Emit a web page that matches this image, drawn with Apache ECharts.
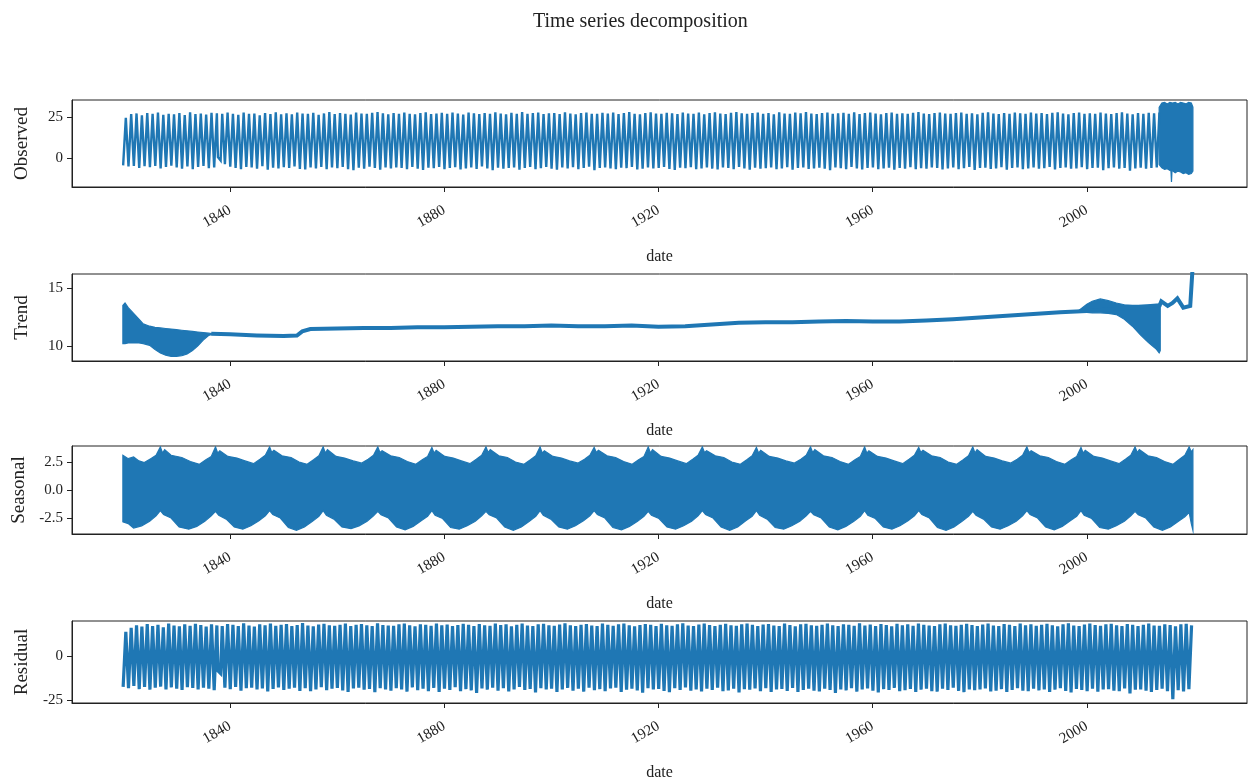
<!DOCTYPE html>
<html><head><meta charset="utf-8">
<script src="https://cdn.jsdelivr.net/npm/echarts@6/dist/echarts.min.js"></script>
<style>html,body{margin:0;padding:0;background:#fff}#c{width:1250px;height:782px}</style>
</head><body><div id="c"></div>
<script>
// ---------------- DATA ----------------
const tickYears = [1840, 1880, 1920, 1960, 2000];
const panelNames = ['Observed', 'Trend', 'Seasonal', 'Residual'];
const obsTicks = [0, 25];
const trendTicks = [10, 15];
const seasTicks = [-2.5, 0, 2.5];
const resTicks = [-25, 0];

const firstYear = 1820;
// Observed: yearly summer highs and winter lows, 1820..2013
const obsPeak = [
 24.5,26.8,27.2,26.1,27.5,26.9,27.8,26.3,27.0,26.6,
 27.4,26.2,27.9,26.8,27.1,26.5,27.6,27.3,27.0,27.8,
 27.0,26.4,27.7,26.9,27.2,26.0,27.5,26.8,27.9,26.7,
 27.3,26.6,27.8,27.1,26.9,27.6,26.4,27.2,28.0,26.8,
 27.4,27.0,26.5,27.8,27.2,26.9,27.6,28.1,27.3,26.7,
 27.5,26.9,27.8,27.0,26.6,27.4,27.9,26.8,27.2,27.6,
 26.9,27.7,27.1,26.5,27.8,27.3,26.8,27.5,27.0,27.9,
 27.2,26.7,27.6,27.0,28.0,26.9,27.4,27.7,26.8,27.3,
 27.5,26.8,27.9,27.1,26.6,27.4,27.8,27.0,26.9,27.6,
 27.2,27.7,26.8,27.4,28.0,27.0,26.7,27.5,27.9,27.1,
 26.9,27.6,27.3,26.8,27.8,27.2,27.0,27.7,26.6,27.4,
 27.9,27.1,26.8,27.6,28.1,27.3,26.9,27.5,27.8,27.0,
 27.4,26.7,27.9,27.2,26.9,27.7,27.3,28.0,27.1,26.8,
 27.5,27.8,26.9,27.3,27.6,27.0,27.9,26.8,27.4,27.7,
 27.1,26.7,27.5,27.8,27.0,27.3,26.9,27.6,28.0,27.2,
 26.8,27.4,27.7,27.1,26.9,27.5,27.8,27.0,27.3,26.7,
 27.6,27.9,27.2,26.8,27.4,27.0,27.7,27.3,26.9,27.8,
 27.1,27.5,26.8,27.6,27.9,27.2,26.7,27.4,27.8,27.0,
 27.3,26.9,27.7,27.1,26.8,27.5,27.9,27.2,26.6,27.4,
 27.0,27.6,27.3,27.8
];
const obsTrough = [
 -4.5,-5.2,-4.8,-6.1,-5.0,-5.6,-4.9,-6.3,-5.4,-4.7,
 -5.8,-6.5,-5.1,-6.8,-5.5,-4.9,-6.2,-5.7,null,-3.8,
 -5.3,-6.0,-6.9,-5.4,-5.8,-6.6,-5.0,-7.2,-5.9,-6.4,
 -5.6,-6.1,-5.2,-6.7,-7.0,-5.8,-6.3,-5.4,-6.9,-5.7,
 -6.2,-5.5,-6.8,-7.4,-5.9,-6.5,-5.3,-6.1,-7.1,-5.8,
 -6.4,-5.7,-6.0,-6.9,-5.4,-6.6,-7.3,-5.9,-6.2,-5.5,
 -6.8,-6.1,-5.6,-7.0,-6.3,-5.8,-6.7,-5.2,-6.4,-7.5,
 -5.9,-6.5,-6.1,-5.7,-7.2,-6.0,-5.5,-6.8,-6.2,-5.4,
 -6.6,-7.1,-5.8,-6.3,-5.6,-6.9,-6.0,-5.3,-7.4,-6.1,
 -5.7,-6.4,-6.8,-5.9,-6.2,-5.5,-7.0,-6.6,-5.8,-6.3,
 -6.0,-5.4,-6.7,-7.3,-5.9,-6.2,-5.6,-6.9,-6.4,-5.8,
 -6.5,-7.0,-5.7,-6.1,-6.8,-5.5,-6.3,-7.2,-5.9,-6.6,
 -6.2,-5.8,-6.9,-6.4,-5.6,-7.1,-6.0,-5.7,-6.7,-6.3,
 -5.9,-6.6,-7.4,-5.8,-6.2,-6.9,-5.5,-6.4,-7.0,-6.1,
 -5.7,-6.8,-6.3,-5.9,-7.2,-6.0,-6.5,-5.6,-6.9,-6.2,
 -6.6,-5.8,-6.1,-7.0,-6.4,-5.7,-6.8,-6.2,-5.5,-7.3,
 -6.0,-5.9,-6.7,-6.3,-5.6,-7.1,-6.1,-5.8,-6.9,-6.4,
 -5.7,-6.5,-6.2,-5.4,-7.0,-6.0,-5.8,-6.6,-6.3,-5.6,
 -6.8,-6.1,-5.9,-7.4,-6.2,-5.7,-6.5,-6.0,-7.8,-6.3,
 -5.9,-6.6,-6.1,-5.8
];
// Observed: stretch of missing values in 1838 (year, value)
const obsGap = [[1837.75, 0.5], [1838.25, -1.5]];
// Observed: dense daily block at the end (envelope, year, value)
const obsBlockUpper = [[2013.5,31.0],[2014.0,33.5],[2014.5,34.0],[2015.0,33.0],[2015.5,34.0],[2016.0,33.5],[2016.5,34.0],[2017.0,33.0],[2017.5,34.0],[2018.0,33.5],[2018.5,33.0],[2019.0,34.0],[2019.5,33.5],[2019.8,31.0]];
const obsBlockLower = [[2013.5,-4.0],[2014.0,-6.0],[2014.5,-7.0],[2015.0,-6.5],[2015.7,-8.0],[2015.8,-14.6],[2015.9,-7.5],[2016.5,-9.0],[2017.0,-8.0],[2017.5,-8.5],[2018.0,-9.5],[2018.5,-9.0],[2019.0,-10.0],[2019.5,-9.5],[2019.8,-8.0]];

// Trend
const trendStartUpper = [[1820.0,13.5],[1820.4,13.7],[1821,13.3],[1822,12.8],[1823,12.3],[1823.8,11.9],[1825,11.7],[1826,11.6],[1827,11.55],[1828,11.5],[1829,11.45],[1830,11.4],[1831,11.35],[1832,11.3],[1833,11.25],[1834,11.2],[1835,11.15],[1836,11.1],[1836.8,11.05]];
const trendStartLower = [[1820.0,10.2],[1820.4,10.2],[1821,10.25],[1822,10.25],[1823,10.25],[1823.8,10.2],[1825,10.05],[1826,9.7],[1827,9.4],[1828,9.2],[1829,9.1],[1830,9.1],[1831,9.15],[1832,9.3],[1833,9.6],[1834,10.0],[1835,10.5],[1836,10.9],[1836.8,11.0]];
const trendEndUpper = [[1998.5,13.05],[2000,13.6],[2001,13.85],[2002.5,14.05],[2004,13.9],[2005.5,13.7],[2007,13.55],[2008.5,13.5],[2010,13.5],[2011.5,13.5],[2013,13.55],[2013.5,13.6],[2013.7,13.6]];
const trendEndLower = [[1998.5,12.95],[2000,12.9],[2001,12.85],[2002.5,12.85],[2004,12.8],[2005.5,12.7],[2007,12.3],[2008.5,11.7],[2010,10.95],[2011.5,10.3],[2013,9.7],[2013.5,9.4],[2013.7,9.6]];
const trendLine = [[1836.5,11.05],[1840,11.0],[1845,10.9],[1850,10.85],[1852.5,10.9],[1853.5,11.25],[1855,11.45],[1860,11.5],[1865,11.55],[1870,11.55],[1875,11.6],[1880,11.6],[1885,11.65],[1890,11.7],[1895,11.7],[1900,11.75],[1905,11.7],[1910,11.7],[1915,11.75],[1920,11.65],[1925,11.7],[1930,11.85],[1935,12.0],[1940,12.05],[1945,12.05],[1950,12.1],[1955,12.15],[1960,12.1],[1965,12.1],[1970,12.2],[1975,12.3],[1980,12.45],[1985,12.6],[1990,12.75],[1995,12.9],[2000,13.0],[2013.6,13.5],[2013.9,13.85],[2015.1,13.45],[2016.0,13.7],[2016.9,14.1],[2018.0,13.3],[2019.3,13.45],[2019.55,13.6],[2019.75,16.8]];

// Seasonal envelope (year, value)
const seasUpper = [[1820.0,3.1],[1821.0,2.8],[1822.0,2.95],[1823.0,2.6],
 [1824.0,2.45],[1825.2,2.8],[1826.2,3.1],[1827.0,3.85],[1827.4,3.3],[1827.8,3.6],[1829.0,3.1],[1831.0,2.9],[1832.6,2.55],
 [1834.3,2.3],[1835.5,2.7],[1836.5,3.0],[1837.3,3.85],[1837.7,3.3],[1838.1,3.5],[1839.6,3.0],[1841.3,2.85],[1842.8,2.6],
 [1844.4,2.35],[1845.6,2.75],[1846.6,3.1],[1847.4,3.85],[1847.8,3.35],[1848.2,3.55],[1849.7,3.05],[1851.4,2.9],[1852.9,2.5],
 [1854.4,2.3],[1855.6,2.7],[1856.6,3.05],[1857.4,3.85],[1857.8,3.3],[1858.2,3.6],[1859.8,3.0],[1861.4,2.85],[1863.0,2.6],
 [1864.6,2.4],[1865.8,2.75],[1866.8,3.1],[1867.6,3.85],[1868.0,3.35],[1868.4,3.5],[1870.0,3.05],[1871.6,2.9],[1873.1,2.55],
 [1874.7,2.3],[1875.9,2.7],[1876.9,3.0],[1877.7,3.8],[1878.1,3.3],[1878.5,3.55],[1880.1,3.0],[1881.7,2.85],[1883.2,2.6],
 [1884.8,2.35],[1886.0,2.75],[1887.0,3.1],[1887.8,3.85],[1888.2,3.35],[1888.6,3.6],[1890.2,3.05],[1891.8,2.9],[1893.3,2.5],
 [1894.9,2.3],[1896.1,2.7],[1897.1,3.05],[1897.9,3.85],[1898.3,3.3],[1898.7,3.5],[1900.3,3.0],[1901.9,2.85],[1903.4,2.6],
 [1905.0,2.4],[1906.2,2.75],[1907.2,3.1],[1908.0,3.8],[1908.4,3.35],[1908.8,3.55],[1910.4,3.05],[1912.0,2.9],[1913.5,2.55],
 [1915.1,2.3],[1916.3,2.7],[1917.3,3.0],[1918.1,3.85],[1918.5,3.3],[1918.9,3.6],[1920.5,3.0],[1922.1,2.85],[1923.6,2.6],
 [1925.2,2.35],[1926.4,2.75],[1927.4,3.1],[1928.2,3.85],[1928.6,3.35],[1929.0,3.5],[1930.6,3.05],[1932.2,2.9],[1933.7,2.5],
 [1935.3,2.3],[1936.5,2.7],[1937.5,3.05],[1938.3,3.8],[1938.7,3.3],[1939.1,3.55],[1940.7,3.0],[1942.3,2.85],[1943.8,2.6],
 [1945.4,2.4],[1946.6,2.75],[1947.6,3.1],[1948.4,3.85],[1948.8,3.35],[1949.2,3.6],[1950.8,3.05],[1952.4,2.9],[1953.9,2.55],
 [1955.5,2.3],[1956.7,2.7],[1957.7,3.0],[1958.5,3.85],[1958.9,3.3],[1959.3,3.5],[1960.9,3.0],[1962.5,2.85],[1964.0,2.6],
 [1965.6,2.35],[1966.8,2.75],[1967.8,3.1],[1968.6,3.8],[1969.0,3.35],[1969.4,3.55],[1971.0,3.05],[1972.6,2.9],[1974.1,2.5],
 [1975.7,2.3],[1976.9,2.7],[1977.9,3.05],[1978.7,3.85],[1979.1,3.3],[1979.5,3.6],[1981.1,3.0],[1982.7,2.85],[1984.2,2.6],
 [1985.8,2.4],[1987.0,2.75],[1988.0,3.1],[1988.8,3.85],[1989.2,3.35],[1989.6,3.5],[1991.2,3.05],[1992.8,2.9],[1994.3,2.55],
 [1995.9,2.3],[1997.1,2.7],[1998.1,3.0],[1998.9,3.8],[1999.3,3.3],[1999.7,3.55],[2001.3,3.0],[2002.9,2.85],[2004.4,2.6],
 [2006.0,2.35],[2007.2,2.75],[2008.2,3.1],[2009.0,3.85],[2009.4,3.35],[2009.8,3.6],[2011.4,3.05],[2013.0,2.9],[2014.5,2.55],
 [2016.1,2.3],[2017.3,2.75],[2018.3,3.1],[2019.1,3.85],[2019.5,3.4],[2019.8,3.6]];
const seasLower = [[1820.0,-2.85],[1821.0,-3.0],[1822.0,-3.4],[1823.5,-3.2],[1825.0,-2.8],[1826.2,-2.3],[1827.0,-1.85],[1827.6,-2.2],[1829.0,-2.5],[1830.5,-3.3],
 [1832.3,-3.5],[1833.8,-3.25],[1835.3,-2.8],[1836.5,-2.3],[1837.3,-1.9],[1837.9,-2.25],[1839.3,-2.6],[1840.8,-3.3],
 [1842.4,-3.5],[1843.9,-3.2],[1845.4,-2.75],[1846.6,-2.3],[1847.4,-1.85],[1848.0,-2.2],[1849.4,-2.5],[1850.9,-3.35],
 [1852.4,-3.6],[1853.9,-3.3],[1855.4,-2.8],[1856.6,-2.35],[1857.4,-1.85],[1858.0,-2.25],[1859.4,-2.6],[1860.9,-3.3],
 [1862.6,-3.45],[1864.1,-3.2],[1865.6,-2.8],[1866.8,-2.3],[1867.6,-1.9],[1868.2,-2.2],[1869.6,-2.5],[1871.1,-3.3],
 [1872.7,-3.55],[1874.2,-3.25],[1875.7,-2.75],[1876.9,-2.35],[1877.7,-1.85],[1878.3,-2.25],[1879.7,-2.55],[1881.2,-3.35],
 [1882.8,-3.5],[1884.3,-3.2],[1885.8,-2.8],[1887.0,-2.3],[1887.8,-1.9],[1888.4,-2.2],[1889.8,-2.5],[1891.3,-3.3],
 [1892.9,-3.6],[1894.4,-3.3],[1895.9,-2.8],[1897.1,-2.35],[1897.9,-1.85],[1898.5,-2.25],[1899.9,-2.6],[1901.4,-3.3],
 [1903.0,-3.5],[1904.5,-3.2],[1906.0,-2.75],[1907.2,-2.3],[1908.0,-1.85],[1908.6,-2.2],[1910.0,-2.5],[1911.5,-3.35],
 [1913.1,-3.55],[1914.6,-3.25],[1916.1,-2.8],[1917.3,-2.35],[1918.1,-1.9],[1918.7,-2.25],[1920.1,-2.55],[1921.6,-3.3],
 [1923.2,-3.5],[1924.7,-3.2],[1926.2,-2.8],[1927.4,-2.3],[1928.2,-1.85],[1928.8,-2.2],[1930.2,-2.5],[1931.7,-3.3],
 [1933.3,-3.6],[1934.8,-3.3],[1936.3,-2.75],[1937.5,-2.35],[1938.3,-1.85],[1938.9,-2.25],[1940.3,-2.6],[1941.8,-3.35],
 [1943.4,-3.5],[1944.9,-3.2],[1946.4,-2.8],[1947.6,-2.3],[1948.4,-1.9],[1949.0,-2.2],[1950.4,-2.5],[1951.9,-3.3],
 [1953.5,-3.55],[1955.0,-3.25],[1956.5,-2.8],[1957.7,-2.35],[1958.5,-1.85],[1959.1,-2.25],[1960.5,-2.55],[1962.0,-3.3],
 [1963.6,-3.5],[1965.1,-3.2],[1966.6,-2.75],[1967.8,-2.3],[1968.6,-1.85],[1969.2,-2.2],[1970.6,-2.5],[1972.1,-3.35],
 [1973.7,-3.6],[1975.2,-3.3],[1976.7,-2.8],[1977.9,-2.35],[1978.7,-1.9],[1979.3,-2.25],[1980.7,-2.6],[1982.2,-3.3],
 [1983.8,-3.5],[1985.3,-3.2],[1986.8,-2.8],[1988.0,-2.3],[1988.8,-1.85],[1989.4,-2.2],[1990.8,-2.5],[1992.3,-3.3],
 [1993.9,-3.55],[1995.4,-3.25],[1996.9,-2.75],[1998.1,-2.35],[1998.9,-1.85],[1999.5,-2.25],[2000.9,-2.55],[2002.4,-3.35],
 [2004.0,-3.5],[2005.5,-3.2],[2007.0,-2.8],[2008.2,-2.3],[2009.0,-1.9],[2009.6,-2.2],[2011.0,-2.5],[2012.5,-3.3],
 [2014.1,-3.6],[2015.6,-3.3],[2017.1,-2.8],[2018.3,-2.4],[2019.1,-2.0],[2019.5,-3.0],[2019.8,-3.6]];

// Residual: yearly highs and lows, 1820..2019
const resPeak = [
 13.5,15.8,17.2,16.4,17.9,16.8,17.5,16.1,18.2,17.0,
 16.6,17.8,16.9,18.0,17.3,16.5,17.7,17.1,16.8,17.9,
 17.4,16.7,18.3,17.0,16.4,17.8,17.2,18.1,16.9,17.5,
 17.9,16.8,17.3,18.4,17.0,16.6,17.6,18.0,17.2,16.9,
 17.5,18.2,16.7,17.4,17.9,17.1,16.8,18.3,17.3,17.0,
 16.9,17.7,18.1,17.2,16.6,17.8,17.4,16.9,18.2,17.1,
 17.6,16.8,17.3,18.0,17.5,16.7,17.9,17.2,16.9,18.1,
 17.3,17.8,16.6,17.5,18.2,17.0,16.8,17.7,18.0,17.2,
 16.9,17.6,18.3,17.1,16.7,17.4,17.9,17.0,16.8,18.1,
 17.5,16.9,17.8,18.2,17.1,16.6,17.3,17.9,17.4,16.8,
 18.0,17.2,16.9,17.7,18.3,17.0,16.7,17.6,18.1,17.3,
 16.8,17.5,18.0,17.1,16.9,17.8,18.2,17.4,16.7,17.6,
 17.9,17.0,16.8,18.1,17.3,16.6,17.7,18.0,17.2,16.9,
 17.4,18.2,17.1,16.7,17.8,17.5,16.9,18.3,17.0,17.6,
 16.8,17.9,17.3,16.6,18.0,17.2,17.7,16.9,18.1,17.4,
 17.0,16.7,17.8,18.2,17.1,16.9,17.5,18.0,17.3,16.8,
 17.6,18.1,17.0,16.7,17.9,17.4,16.8,18.2,17.2,17.7,
 16.9,17.5,18.0,17.1,16.6,17.8,18.3,17.0,16.8,17.6,
 18.1,17.3,16.9,17.7,18.0,17.2,16.7,17.9,17.4,16.8,
 17.5,18.2,17.0,16.9,17.8,17.3,16.6,17.7,18.0,17.1
];
const resTrough = [
 -17.5,-18.2,-17.0,-18.8,-17.6,-19.1,-18.0,-17.4,-18.9,-17.8,
 -18.5,-19.3,-17.7,-18.1,-19.0,-17.9,-18.6,-19.4,null,-18.0,
 -18.8,-17.5,-19.6,-18.2,-17.9,-19.0,-18.4,-20.1,-18.7,-17.8,
 -19.2,-18.5,-17.9,-19.8,-18.3,-20.0,-18.9,-17.7,-19.4,-18.6,
 -18.1,-19.5,-20.3,-18.4,-17.9,-19.1,-18.7,-20.5,-18.2,-19.0,
 -19.7,-18.3,-18.9,-20.2,-17.8,-19.4,-18.6,-19.9,-18.1,-20.4,
 -18.5,-19.2,-17.7,-20.0,-18.8,-19.5,-21.0,-18.4,-19.1,-18.0,
 -19.6,-18.2,-20.1,-18.9,-17.6,-19.3,-18.7,-20.6,-18.3,-19.0,
 -18.6,-20.4,-19.0,-18.1,-19.7,-18.5,-20.2,-17.9,-19.4,-18.8,
 -19.9,-18.4,-18.0,-20.3,-19.1,-18.6,-19.5,-20.8,-18.2,-19.0,
 -18.7,-19.8,-20.5,-18.3,-19.2,-17.8,-19.6,-18.9,-20.1,-18.5,
 -19.3,-18.0,-20.0,-19.5,-18.6,-20.7,-18.8,-19.1,-18.4,-19.9,
 -18.2,-20.3,-19.0,-18.7,-19.8,-18.1,-20.4,-19.2,-18.5,-19.6,
 -20.1,-18.6,-19.3,-21.0,-18.9,-19.5,-18.3,-20.2,-19.0,-18.4,
 -19.7,-20.6,-18.8,-19.2,-18.1,-20.0,-19.4,-18.7,-20.3,-19.1,
 -18.5,-19.9,-20.2,-18.6,-19.3,-18.0,-19.8,-20.5,-18.9,-19.4,
 -19.0,-18.4,-20.1,-19.6,-18.8,-20.4,-19.2,-18.3,-19.7,-20.0,
 -18.6,-19.5,-18.9,-20.3,-19.1,-18.2,-19.8,-20.6,-18.7,-19.3,
 -19.9,-18.5,-20.2,-19.0,-18.8,-19.6,-20.0,-18.4,-21.2,-19.1,
 -18.9,-19.7,-20.4,-19.2,-18.6,-19.9,-24.5,-19.4,-20.1,-18.8
];
const resGap = [[1837.75, -8.5], [1838.25, -10.0]];

// ---------------- CHART ----------------
const C = '#1f77b4';
const FONT = 'Liberation Serif';
const TXT = '#222';

function zigzag(peaks, troughs, extra) {
  const pts = [];
  for (let i = 0; i < peaks.length; i++) {
    const yr = firstYear + i;
    if (troughs[i] != null) pts.push([yr + 0.05, troughs[i]]);
    pts.push([yr + 0.55, peaks[i]]);
  }
  extra.forEach(p => pts.push(p));
  pts.sort((a, b) => a[0] - b[0]);
  return pts;
}
function band(idx, upper, lower) {
  return {
    type: 'custom', xAxisIndex: idx, yAxisIndex: idx, silent: true, clip: true,
    data: [upper[0]],
    renderItem: function (params, api) {
      const pts = upper.map(p => api.coord(p)).concat(lower.slice().reverse().map(p => api.coord(p)));
      return { type: 'polygon', shape: { points: pts }, style: { fill: C, stroke: C, lineWidth: 1.2, lineJoin: 'miter' } };
    }
  };
}
function lineS(idx, data, w) {
  return { type: 'line', xAxisIndex: idx, yAxisIndex: idx, data: data, showSymbol: false, symbol: 'none',
    clip: true, silent: true, lineStyle: { color: C, width: w, join: 'miter' }, itemStyle: { color: C } };
}

const grids = [
  { left: 72, top: 100, width: 1175, height: 87 },
  { left: 72, top: 274, width: 1175, height: 87 },
  { left: 72, top: 446, width: 1175, height: 88 },
  { left: 72, top: 621, width: 1175, height: 85 }
];
const yRanges = [[-17.7, 35.4], [8.7, 16.2], [-3.93, 3.93], [-26.6, 19.6]];
const yTicks = [obsTicks, trendTicks, seasTicks, resTicks];
const yFmt = [v => String(v), v => String(v), v => v.toFixed(1), v => String(v)];

const option = {
  animation: false,
  backgroundColor: '#fff',
  title: { text: 'Time series decomposition', left: 528, top: 7,
    textStyle: { fontFamily: FONT, fontSize: 20, fontWeight: 'normal', color: TXT } },
  grid: grids.map(g => Object.assign({ show: true, borderColor: '#222', borderWidth: 1, backgroundColor: 'transparent', containLabel: false }, g)),
  xAxis: grids.map((g, i) => ({
    type: 'value', gridIndex: i, min: 1810.5, max: 2029.9,
    name: 'date', nameLocation: 'middle', nameGap: 62,
    nameTextStyle: { fontFamily: FONT, fontSize: 16, color: TXT },
    axisLine: { show: true, onZero: false, lineStyle: { color: '#222', width: 1 } },
    axisTick: { show: true, customValues: tickYears, length: 5, lineStyle: { color: '#222' } },
    axisLabel: { customValues: tickYears, formatter: v => String(v), rotate: 30, margin: 22, fontFamily: FONT, fontSize: 15, color: TXT },
    splitLine: { show: false }
  })),
  yAxis: grids.map((g, i) => ({
    type: 'value', gridIndex: i, min: yRanges[i][0], max: yRanges[i][1],
    name: panelNames[i], nameLocation: 'middle', nameGap: 40, nameRotate: 90,
    nameTextStyle: { fontFamily: FONT, fontSize: 19, color: TXT },
    axisLine: { show: true, lineStyle: { color: '#222', width: 1 } },
    axisTick: { show: true, customValues: yTicks[i], length: 5, lineStyle: { color: '#222' } },
    axisLabel: { customValues: yTicks[i], formatter: yFmt[i], margin: 9, fontFamily: FONT, fontSize: 15, color: TXT },
    splitLine: { show: false }
  })),
  series: [
    lineS(0, zigzag(obsPeak, obsTrough, obsGap), 2.4),
    band(0, obsBlockUpper, obsBlockLower),
    band(1, trendStartUpper, trendStartLower),
    band(1, trendEndUpper, trendEndLower),
    lineS(1, trendLine, 4),
    band(2, seasUpper, seasLower),
    lineS(3, zigzag(resPeak, resTrough, resGap), 3.2)
  ]
};
echarts.init(document.getElementById('c'), null, { renderer: 'canvas' }).setOption(option);
</script>
</body></html>
